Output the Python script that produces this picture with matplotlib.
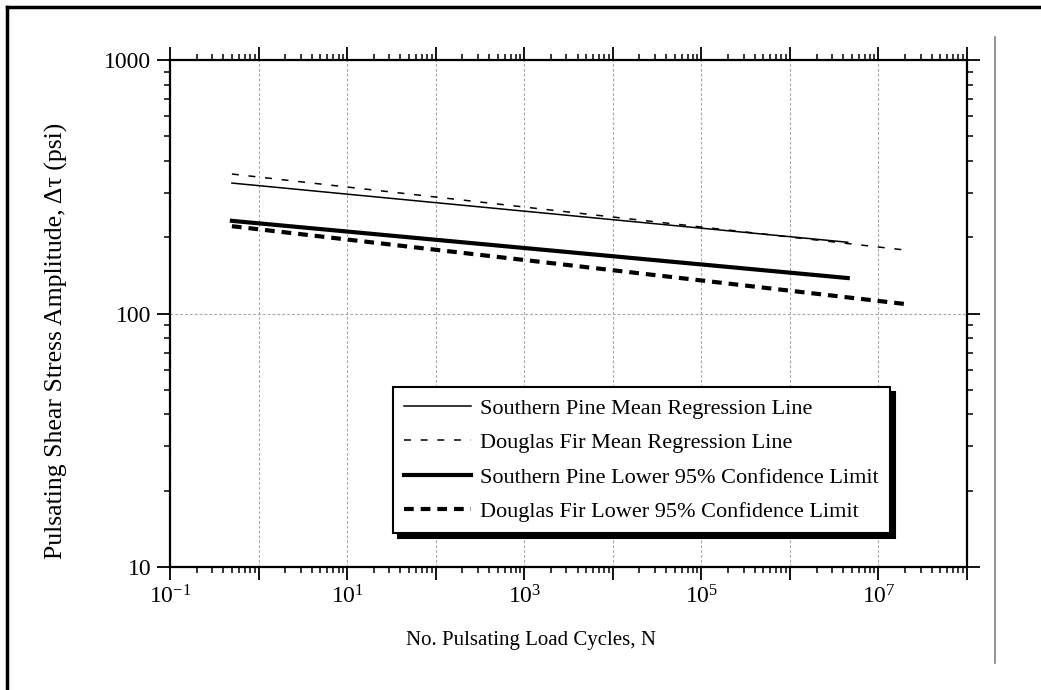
import numpy as np
import matplotlib
matplotlib.use("Agg")
import matplotlib.pyplot as plt
from matplotlib.lines import Line2D
from matplotlib.ticker import LogLocator, FuncFormatter, NullFormatter

# data (straight lines on log-log axes, end points)
sp_mean_x = [0.5, 4.5e6]
sp_mean_y = [327, 191]
df_mean_x = [0.5, 2.0e7]
df_mean_y = [355, 178]
sp_low_x = [0.5, 4.5e6]
sp_low_y = [232, 138]
df_low_x = [0.5, 2.0e7]
df_low_y = [221, 109]

labels = ['Southern Pine Mean Regression Line',
          'Douglas Fir Mean Regression Line',
          'Southern Pine Lower 95% Confidence Limit',
          'Douglas Fir Lower 95% Confidence Limit']

x_tick_vals = [1e-1, 1e1, 1e3, 1e5, 1e7]
y_tick_vals = [10, 100, 1000]

plt.rcParams['font.family'] = ['Liberation Serif', 'DejaVu Serif']
plt.rcParams['mathtext.fontset'] = 'stix'
plt.rcParams['lines.scale_dashes'] = False

fig = plt.figure(figsize=(10.41, 6.9), dpi=100)
ax = fig.add_axes([170/1041, 1-567/690, 797/1041, 507/690])

ax.plot(sp_mean_x, sp_mean_y, color='black', lw=1.1, label=labels[0])
ax.plot(df_mean_x, df_mean_y, color='black', lw=1.1, linestyle=(0, (5, 7)), label=labels[1])
ax.plot(sp_low_x, sp_low_y, color='black', lw=3.0, label=labels[2])
ax.plot(df_low_x, df_low_y, color='black', lw=3.0, linestyle=(0, (7, 5)), label=labels[3])

ax.set_xscale('log')
ax.set_yscale('log')
ax.set_xlim(1e-1, 1e8)
ax.set_ylim(10, 1000)

ax.xaxis.set_major_locator(LogLocator(base=10, numticks=20))
ax.xaxis.set_minor_locator(LogLocator(base=10, subs=np.arange(2, 10), numticks=20))
ax.yaxis.set_major_locator(LogLocator(base=10, numticks=20))
ax.yaxis.set_minor_locator(LogLocator(base=10, subs=np.arange(2, 10), numticks=20))

def xfmt(v, pos):
    for t in x_tick_vals:
        if abs(np.log10(v) - np.log10(t)) < 1e-6:
            return r'$\mathregular{10^{%d}}$' % int(round(np.log10(t)))
    return ''

def yfmt(v, pos):
    for t in y_tick_vals:
        if abs(v - t) < 1e-6 * t:
            return '%d' % t
    return ''

ax.xaxis.set_major_formatter(FuncFormatter(xfmt))
ax.yaxis.set_major_formatter(FuncFormatter(yfmt))
ax.xaxis.set_minor_formatter(NullFormatter())
ax.yaxis.set_minor_formatter(NullFormatter())

ax.tick_params(which='both', direction='out', top=True, right=True, color='black')
ax.tick_params(which='major', length=9.5, width=1.3, labelsize=17, pad=4)
ax.tick_params(which='minor', length=4, width=1.1)
for s in ax.spines.values():
    s.set_linewidth(1.6)

# gray dotted grid at the decades
ax.grid(True, which='major', color='0.65', linestyle=(0, (2, 1.5)), lw=0.8)

ax.set_xlabel('No. Pulsating Load Cycles, N', fontsize=15)
ax.xaxis.set_label_coords((531-170)/797, -(631-567)/507)
ax.set_ylabel('Pulsating Shear Stress Amplitude, Δτ (psi)', fontsize=18.5)
ax.yaxis.set_label_coords(-(170-68)/797, (567-341)/507)

leg = ax.legend(loc='lower left', bbox_to_anchor=(0.28, 0.067), borderaxespad=0,
                fontsize=16, fancybox=False, framealpha=1, edgecolor='black',
                handlelength=3.0, handletextpad=0.4, labelspacing=0.62,
                borderpad=0.5,
                shadow={'ox': 3.5, 'oy': -3.5, 'color': 'black', 'alpha': 1})
leg.get_frame().set_linewidth(1.5)

# page border and side line from the scan
fig.add_artist(Line2D([7/1041, 1], [1-7/690, 1-7/690], color='black', lw=2.5))
fig.add_artist(Line2D([7/1041, 7/1041], [0, 1-7/690], color='black', lw=2.5))
fig.add_artist(Line2D([995/1041, 995/1041], [1-663/690, 1-37/690], color='0.5', lw=1.2))

fig.savefig('out.png', dpi=100)
